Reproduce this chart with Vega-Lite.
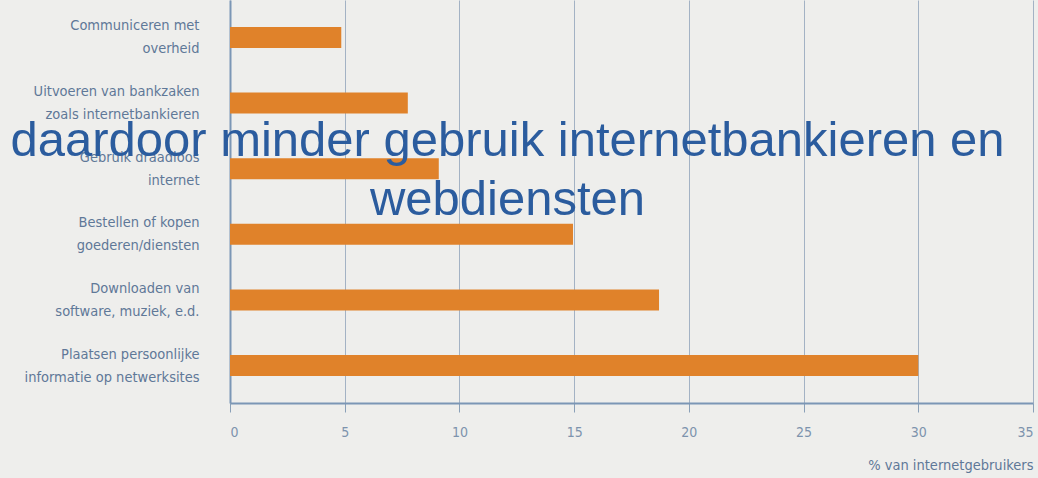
{
  "$schema": "https://vega.github.io/schema/vega-lite/v6.json",
  "autosize": "none",
  "width": 803,
  "height": 403,
  "padding": {"left": 230, "top": 0, "right": 5, "bottom": 75},
  "background": "#eeeeec",
  "title": {
    "text": ["daardoor minder gebruik internetbankieren en", "webdiensten"],
    "font": "Liberation Sans",
    "fontSize": 49,
    "fontWeight": "normal",
    "color": "#2b5c9e",
    "lineHeight": 59,
    "anchor": "middle",
    "frame": "group",
    "dx": -124,
    "offset": -264,
    "baseline": "alphabetic"
  },
  "data": {
    "values": [
      {"activiteit": "Communiceren met|overheid", "pct": 4.85},
      {"activiteit": "Uitvoeren van bankzaken|zoals internetbankieren", "pct": 7.75},
      {"activiteit": "Gebruik draadloos|internet", "pct": 9.1},
      {"activiteit": "Bestellen of kopen|goederen/diensten", "pct": 14.95},
      {"activiteit": "Downloaden van|software, muziek, e.d.", "pct": 18.7},
      {"activiteit": "Plaatsen persoonlijke|informatie op netwerksites", "pct": 30.0}
    ]
  },
  "mark": {"type": "bar", "color": "#e0822a"},
  "encoding": {
    "y": {
      "field": "activiteit",
      "type": "nominal",
      "sort": null,
      "scale": {"paddingInner": 0.68, "paddingOuter": 0.41},
      "axis": {
        "title": null,
        "labelExpr": "split(datum.label, '|')",
        "labelFont": "DejaVu Sans Condensed",
        "labelFontSize": 14.5,
        "labelColor": "#5f7898",
        "labelLineHeight": 23,
        "labelOffset": -11,
        "labelPadding": 31,
        "labelAlign": "right",
        "labelLimit": 300,
        "ticks": false,
        "domainColor": "#7b96b5",
        "domainWidth": 2,
        "grid": false
      }
    },
    "x": {
      "field": "pct",
      "type": "quantitative",
      "scale": {"domain": [0, 35], "nice": false},
      "axis": {
        "values": [0, 5, 10, 15, 20, 25, 30, 35],
        "title": "% van internetgebruikers",
        "titleFont": "DejaVu Sans Condensed",
        "titleFontSize": 14.5,
        "titleFontWeight": "normal",
        "titleColor": "#5f7898",
        "titleAnchor": "end",
        "titlePadding": 19,
        "labelFont": "DejaVu Sans Condensed",
        "labelFontSize": 14,
        "labelColor": "#7d93ad",
        "labelPadding": 13,
        "tickSize": 9,
        "tickColor": "#8aa0b8",
        "domainColor": "#7b96b5",
        "domainWidth": 2,
        "grid": true,
        "gridColor": "#a3b2c4",
        "gridWidth": 1
      }
    }
  },
  "config": {"view": {"stroke": null}}
}
